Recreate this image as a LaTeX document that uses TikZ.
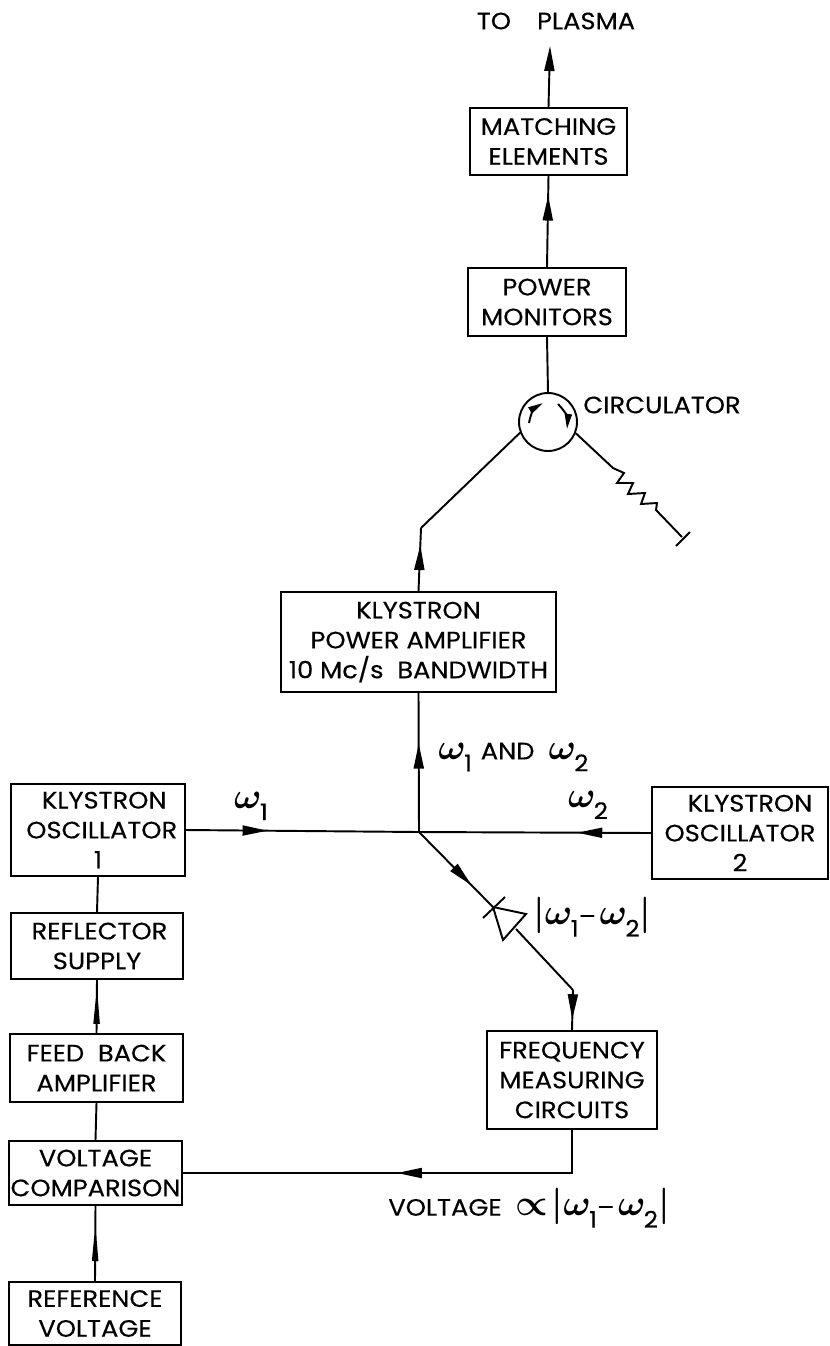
\documentclass[tikz,border=0pt]{standalone}
\usepackage{fontspec}
\usetikzlibrary{arrows.meta,decorations.markings}
\newfontfamily\poppinsfont[FakeStretch=1.085,FakeBold=0.3]{Poppins}
\newcommand{\lettering}[1]{{\poppinsfont\fontsize{13.5}{17}\selectfont #1}}
\newcommand{\wsub}[1]{$\omega$\kern-1pt\raisebox{-6.8pt}{\poppinsfont\fontsize{13}{13}\selectfont #1}}

\tikzset{
    block/.style={draw, line width=1.1pt, inner sep=0pt, align=center, font=\poppinsfont\fontsize{13.5}{17}\selectfont},
    pxsize/.style 2 args={minimum width=#1*0.02cm, minimum height=#2*0.02cm},
    lbl/.style={inner sep=0pt, font=\poppinsfont\fontsize{13.5}{17}\selectfont},
    greek/.style={inner sep=0pt, font=\huge\boldmath},
    sig/.style={line width=1.1pt},
    midarrow/.style={decoration={markings, mark=at position #1 with {\arrow{Triangle[length=0.5cm, width=0.2cm]}}}, postaction={decorate}},
    thinarrow/.style={decoration={markings, mark=at position #1 with {\arrow{Triangle[length=0.76cm, width=0.12cm]}}}, postaction={decorate}}
}

\begin{document}
\begin{tikzpicture}[x=0.02cm, y=-0.02cm]
    \useasboundingbox (0,0) rectangle (829,1346);

    % Output chain
    \node[lbl] (plasma) at (556,21) {TO\hspace{1.1em}PLASMA};
    \coordinate (plasmatip) at (550,46);
    \node[block, pxsize={157}{67}] (matching) at (548.5,141.5) {MATCHING\\ELEMENTS};
    \node[block, pxsize={158}{68}] (monitors) at (547,302) {POWER\\MONITORS};
    \node[draw, circle, line width=1.1pt, minimum size=1.16cm, inner sep=0pt] (circ) at (548,422) {};
    \node[lbl, anchor=west] (circlabel) at (583,405) {CIRCULATOR};

    % Amplifier and oscillators
    \node[block, pxsize={275}{100}] (amp) at (418.5,642) {KLYSTRON\\POWER AMPLIFIER\\10 Mc/s\ \ BANDWIDTH};
    \node[block, pxsize={174}{92}] (osc1) at (98,830) {\hspace*{0.25cm}KLYSTRON\\\hspace*{0.15cm}OSCILLATOR\\1};
    \node[block, pxsize={176}{92}] (osc2) at (740,833) {\hspace*{0.4cm}KLYSTRON\\OSCILLATOR\\2};
    \coordinate (junc) at (419,832);
    \coordinate (bend) at (421,528);

    % Left column
    \node[block, pxsize={172}{66}] (reflector) at (97,946) {\hspace*{0.1cm}REFLECTOR\\SUPPLY};
    \node[block, pxsize={173}{68}] (feedback) at (96.5,1068) {FEED\ \ BACK\\AMPLIFIER};
    \node[block, pxsize={173}{64}] (comparison) at (95.5,1173) {VOLTAGE\\COMPARISON};
    \node[block, pxsize={172}{63}] (reference) at (95,1313.5) {REFERENCE\\VOLTAGE};

    % Frequency measuring branch
    \node[block, pxsize={170}{98}] (freq) at (572,1080) {FREQUENCY\\MEASURING\\CIRCUITS};
    \coordinate (diodein) at (493,907);
    \coordinate (diodeout) at (516,929);
    \coordinate (corner) at (573,990);

    % Signal labels
    \node[greek] (w1) at (251,806) {\wsub{1}};
    \node[greek] (w2) at (588,805) {\wsub{2}};
    \node[greek, anchor=west] (w1w2) at (438,757) {\wsub{1}\hspace{5pt}\lettering{AND}\hspace{8pt}\wsub{2}};
    \node[greek, anchor=west] (diff) at (533,917) {$|$\wsub{1}\lettering{–}\hspace{2pt}\wsub{2}$|$};
    \node[greek, anchor=west] (volt) at (388,1208) {\lettering{VOLTAGE}\hspace{8pt}$\propto$\hspace{2pt}$|$\wsub{1}\lettering{–}\hspace{2pt}\wsub{2}$|$};

    % Connectors
    \draw[sig, -{Triangle[length=0.5cm, width=0.2cm]}] (matching.north) -- (plasmatip);
    \draw[sig, midarrow=0.785] (monitors.north) -- (matching.south);
    \draw[sig] (circ.north) -- (monitors.south);
    \draw[sig, midarrow=0.73] (amp.north) -- (bend);
    \draw[sig] (bend) -- (circ.201);
    \draw[sig, midarrow=0.636] (junc) -- (amp.south);
    \draw[sig, midarrow=0.35] (osc1.east) -- (junc);
    \draw[sig, midarrow=0.318] (osc2.west) -- (junc);
    \draw[sig, midarrow=0.71] (junc) -- (diodein);
    \draw[sig] (diodeout) -- (corner);
    \draw[sig, midarrow=0.73] (corner) -- (freq.north);
    \draw[sig, midarrow=0.505] (freq.south) |- (comparison.east);
    \draw[sig] (osc1.south) -- (reflector.north);
    \draw[sig, thinarrow=0.89] (feedback.north) -- (reflector.south);
    \draw[sig] (feedback.south) -- (comparison.north);
    \draw[sig, thinarrow=0.77] (reference.north) -- (comparison.south);

    % Diode
    \draw[sig, line join=miter] (diodein) -- (526,914) -- (503,940) -- cycle;
    \draw[sig] (505,897) -- (483,918);

    % Circulator arrows
    \draw[sig, -{Triangle[length=0.3cm, width=0.14cm]}] (529,423) to[bend left=25] (543,403);
    \draw[sig, -{Triangle[length=0.3cm, width=0.14cm]}] (558,404) to[bend left=25] (567,429);

    % Terminating resistor
    \draw[sig] (circ.-22) -- (613,468) -- (624,473) -- (617,483) -- (633,483) -- (628,494) -- (645,493) -- (641,504) -- (657,503) -- (656,510) -- (682,537);
    \draw[sig] (676,546) -- (690,532);
\end{tikzpicture}
\end{document}
